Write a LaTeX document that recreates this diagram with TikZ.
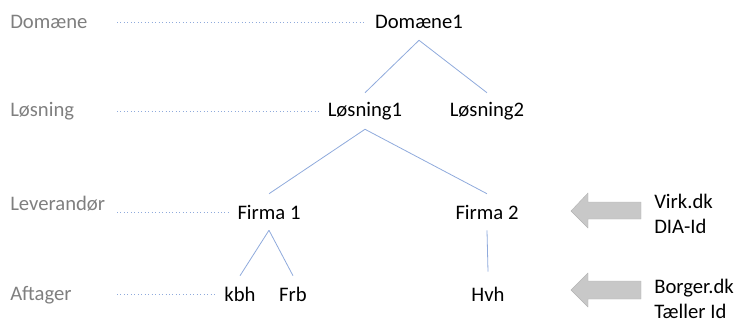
\documentclass[tikz,border=0pt]{standalone}
\usepackage{fontspec}
\setmainfont{Carlito}
\usepackage{xcolor}
\usepackage{tikz}

\definecolor{linkblue}{HTML}{8FAADC}
\definecolor{lvlgray}{HTML}{7F7F7F}
\definecolor{arrowgray}{HTML}{C8C8C8}

\tikzset{
  unit/.style={font=\fontsize{15.5}{18}\selectfont, inner xsep=6.75pt, inner ysep=0pt, minimum height=27pt},
  level/.style={font=\fontsize{15.5}{18}\selectfont, text=lvlgray, anchor=west, inner sep=0pt},
  source/.style={font=\fontsize{15.5}{18.75}\selectfont, align=left, anchor=west, inner sep=0pt},
  branch/.style={linkblue, line width=0.6pt},
  guide/.style={linkblue, dotted, line width=0.6pt},
  feed/.style={fill=arrowgray, draw=arrowgray!90!black, line width=0.3pt}
}

\begin{document}
\begin{tikzpicture}[x=0.75pt, y=-0.75pt]
    \useasboundingbox (0,0) rectangle (740,322);

    % levels on the left
    \node[level] (lvdom) at (10,22) {Domæne};
    \node[level] (lvlos) at (10,111) {Løsning};
    \node[level] (lvlev) at (10,204) {Leverandør};
    \node[level] (lvaft) at (10,295) {Aftager};
    \coordinate (xs) at (117,0);

    % the tree
    \node[unit] (dom1) at (419,22) {Domæne1};
    \node[unit] (los1) at (365,111) {Løsning1};
    \node[unit] (los2) at (487,111) {Løsning2};
    \node[unit] (firma1) at (269,212) {Firma 1};
    \node[unit] (firma2) at (487,212) {Firma 2};
    \node[unit] (kbh) at (240,294) {kbh};
    \node[unit] (frb) at (293,294) {Frb};
    \node[unit] (hvh) at (488,294) {Hvh};

    \draw[branch] (dom1.south) -- (los1.north);
    \draw[branch] (dom1.south) -- (los2.north);
    \draw[branch] (los1.south) -- (firma1.north);
    \draw[branch] (los1.south) -- (firma2.north);
    \draw[branch] (firma1.south) -- (kbh.north);
    \draw[branch] (firma1.south) -- (frb.north);
    \draw[branch] (firma2.south) -- ([yshift=3pt]hvh.north);

    % dotted guides from the levels
    \draw[guide] (dom1.west -| xs) -- (dom1.west);
    \draw[guide] (los1.west -| xs) -- (los1.west);
    \draw[guide] (firma1.west -| xs) -- (firma1.west);
    \draw[guide] (kbh.west -| xs) -- (kbh.west);

    % id sources on the right
    \node[source] (virk) at (654,214) {Virk.dk\\DIA-Id};
    \node[source] (borger) at (654,299) {Borger.dk\\Tæller Id};

    \fill[feed] (571,211) -- (588,193) -- (588,202) -- (641,202) -- (641,219) -- (588,219) -- (588,228) -- cycle;
    \fill[feed] (571,290) -- (588,273) -- (588,281) -- (641,281) -- (641,299) -- (588,299) -- (588,307) -- cycle;
\end{tikzpicture}
\end{document}
